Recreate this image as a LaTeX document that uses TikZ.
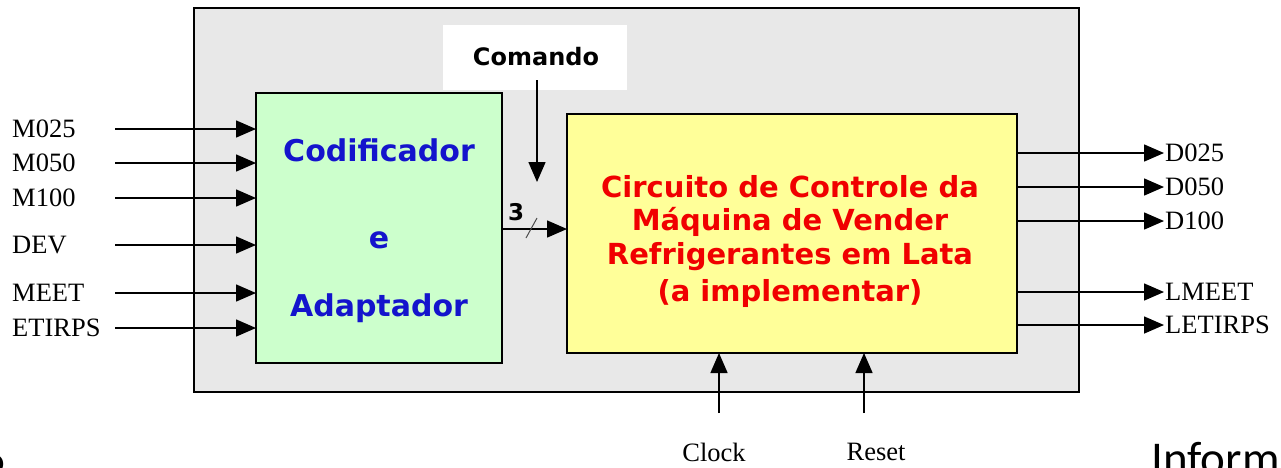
\documentclass[tikz,border=0pt]{standalone}
\usepackage{fontspec}
\setmainfont{Liberation Serif}
\newfontfamily\boxfont{DejaVu Sans}
\newfontfamily\slidefont{Carlito}
\usetikzlibrary{arrows.meta}
\definecolor{panelgrey}{HTML}{E8E8E8}
\definecolor{encgreen}{HTML}{CCFFCC}
\definecolor{ctrlyellow}{HTML}{FFFF99}
\definecolor{encblue}{HTML}{1414CC}
\definecolor{ctrlred}{HTML}{F00000}
\tikzset{
  blockbox/.style={draw=black, line width=1.8pt, anchor=north west, inner sep=0pt, outer sep=0pt},
  sig/.style={line width=1.5pt, -{Triangle[length=20pt,width=17pt]}},
  siglabel/.style={font=\fontsize{26.5}{30}\selectfont, inner sep=0pt},
  enctext/.style={font=\boxfont\bfseries\fontsize{30}{34}\selectfont, text=encblue, inner sep=0pt},
  ctrltext/.style={font=\boxfont\bfseries\fontsize{29}{33}\selectfont, text=ctrlred, inner sep=0pt},
  cmdtext/.style={font=\boxfont\bfseries\fontsize{24}{28}\selectfont, inner sep=0pt},
  slidetext/.style={font=\slidefont\fontsize{47}{54}\selectfont, inner sep=0pt}
}
\begin{document}
\begin{tikzpicture}[x=1pt,y=-1pt]
\useasboundingbox (0,0) rectangle (1281,467);
\clip (0,0) rectangle (1281,467);
\fill[white] (0,0) rectangle (1281,467);
% outer panel
\node[blockbox, fill=panelgrey, minimum width=885pt, minimum height=384pt] (panel) at (194,8) {};
% white area behind Comando
\node[fill=white, anchor=north west, inner sep=0pt, minimum width=184pt, minimum height=65pt] (cmdarea) at (443,25) {};
\node[cmdtext] (cmd) at (536,57) {Comando};
% blocks
\node[blockbox, fill=encgreen, minimum width=246pt, minimum height=270pt] (enc) at (256,93) {};
\node[blockbox, fill=ctrlyellow, minimum width=450pt, minimum height=239pt] (ctrl) at (567,114) {};
% encoder text
\node[enctext] (enc1) at (379,150) {Codificador};
\node[enctext] (enc2) at (379,240) {e};
\node[enctext] (enc3) at (379,308) {Adaptador};
% control text
\node[ctrltext] (ctl1) at (790,187) {Circuito de Controle da};
\node[ctrltext] (ctl2) at (790,222) {Máquina de Vender};
\node[ctrltext] (ctl3) at (790,257) {Refrigerantes em Lata};
\node[ctrltext] (ctl4) at (790,293) {(a implementar)};
% inputs
\foreach \name/\txt/\yy in {iA/M025/129, iB/M050/163, iC/M100/198, iD/DEV/245, iE/MEET/293, iF/ETIRPS/328}{
  \node[siglabel, anchor=west] (\name lab) at (12,\yy) {\txt};
  \coordinate (\name) at (115,\yy);
  \draw[sig] (\name) -- (\name -| enc.west);
}
% outputs
\foreach \name/\txt/\yy in {oA/D025/153, oB/D050/187, oC/D100/221, oD/LMEET/292, oE/LETIRPS/325}{
  \coordinate (\name) at (1164,\yy);
  \node[siglabel, anchor=west] (\name lab) at (1165,\yy) {\txt};
  \draw[sig] (\name -| ctrl.east) -- (\name);
}
% comando arrow
\coordinate (cmdstart) at (537,80);
\coordinate (cmdend) at (537,182);
\draw[sig] (cmdstart) -- (cmdend);
% 3-bit bus
\coordinate (bus) at (0,229);
\draw[sig] (bus -| enc.east) -- (bus -| ctrl.west);
\coordinate (slashA) at (526,238);
\coordinate (slashB) at (537,218);
\draw[line width=1pt, black!70] (slashA) -- (slashB);
\node[cmdtext, font=\boxfont\bfseries\fontsize{23}{26}\selectfont] (busw) at (516,212) {3};
% clock and reset
\coordinate (clk) at (719,413);
\coordinate (rst) at (864,413);
\draw[sig] (clk) -- (clk |- ctrl.south);
\draw[sig] (rst) -- (rst |- ctrl.south);
\node[siglabel] (clklab) at (714,452) {Clock};
\node[siglabel] (rstlab) at (876,452) {Reset};
% slide fragments
\node[slidetext, anchor=base east] (pagenum) at (6,474) {6};
\node[slidetext, anchor=base west] (slidetitle) at (1151,474) {Inform};
\end{tikzpicture}
\end{document}
